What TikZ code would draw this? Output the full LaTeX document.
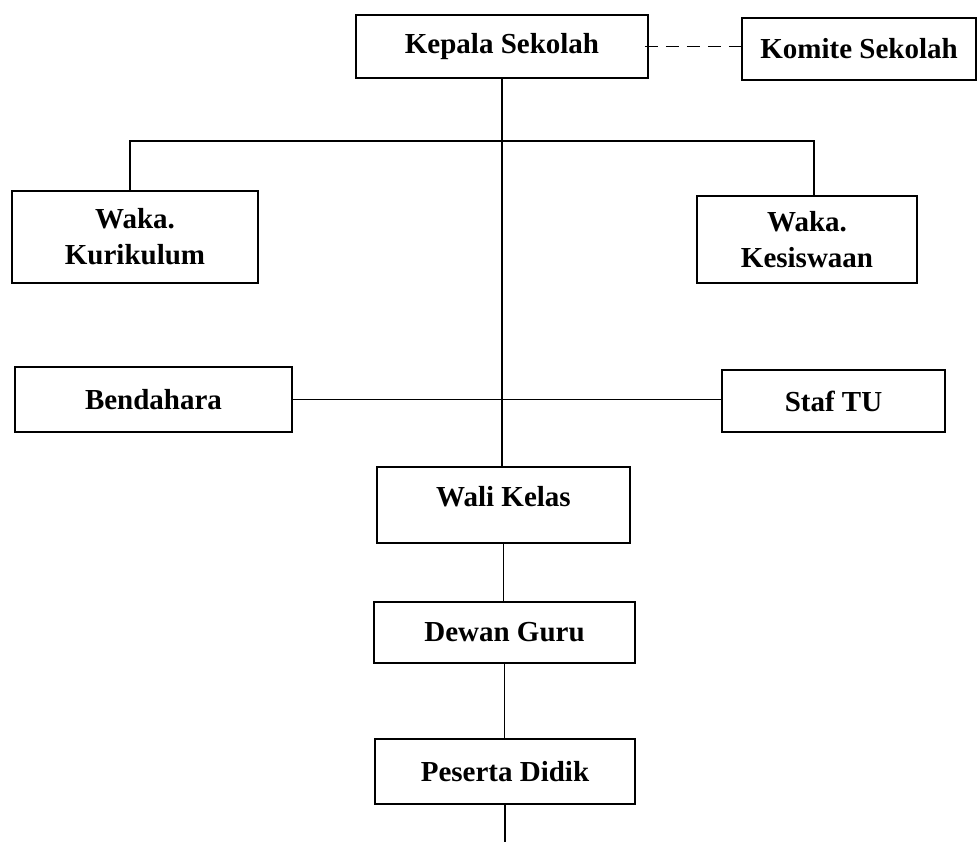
\documentclass[tikz,border=0pt]{standalone}
\usepackage{fontspec}
\setmainfont{Liberation Serif}
\begin{document}
\begin{tikzpicture}[x=1pt,y=-1pt,
  box/.style={draw,line width=1.8pt,inner sep=0pt,align=center,
    font=\fontsize{29}{36}\selectfont\bfseries},
  conn/.style={line width=1.8pt}]
\useasboundingbox (0,0) rectangle (978,842);
\node[box,minimum width=292pt,minimum height=63pt] (kep) at (502,46.5) {Kepala Sekolah};
\node[box,minimum width=234pt,minimum height=62pt] (kom) at (859,49) {Komite Sekolah};
\node[box,minimum width=246pt,minimum height=92pt] (kur) at (135,237) {Waka.\\Kurikulum};
\node[box,minimum width=220pt,minimum height=87pt] (kes) at (807,239.5) {Waka.\\Kesiswaan};
\node[box,minimum width=277pt,minimum height=65pt] (ben) at (153.5,399.5) {Bendahara};
\node[box,minimum width=223pt,minimum height=62pt] (staf) at (833.5,401) {Staf TU};
\node[box,minimum width=253pt,minimum height=76pt,text depth=18pt] (wali) at (503.5,505) {Wali Kelas};
\node[box,minimum width=261pt,minimum height=61pt] (dewan) at (504.5,632.5) {Dewan Guru};
\node[box,minimum width=260pt,minimum height=65pt] (pes) at (505,771.5) {Peserta Didik};
\coordinate (tl) at (130,141);
\coordinate (tr) at (814,141);
\coordinate (bot) at (504,842);
\draw[conn,dash pattern=on 13pt off 8pt] ([xshift=-4pt]kep.east) -- (kep.east -| kom.west);
\draw[conn] (kep.south) -- (kep.south |- wali.north);
\draw[conn] (kur.north -| tl) -- (tl) -- (tr) -- (kes.north -| tr);
\draw[conn] (ben.east) -- (ben.east -| staf.west);
\draw[conn] (wali.south) -- (wali.south |- dewan.north);
\draw[conn] (dewan.south) -- (dewan.south |- pes.north);
\draw[conn] (pes.south) -- (pes.south |- bot);
\end{tikzpicture}
\end{document}
